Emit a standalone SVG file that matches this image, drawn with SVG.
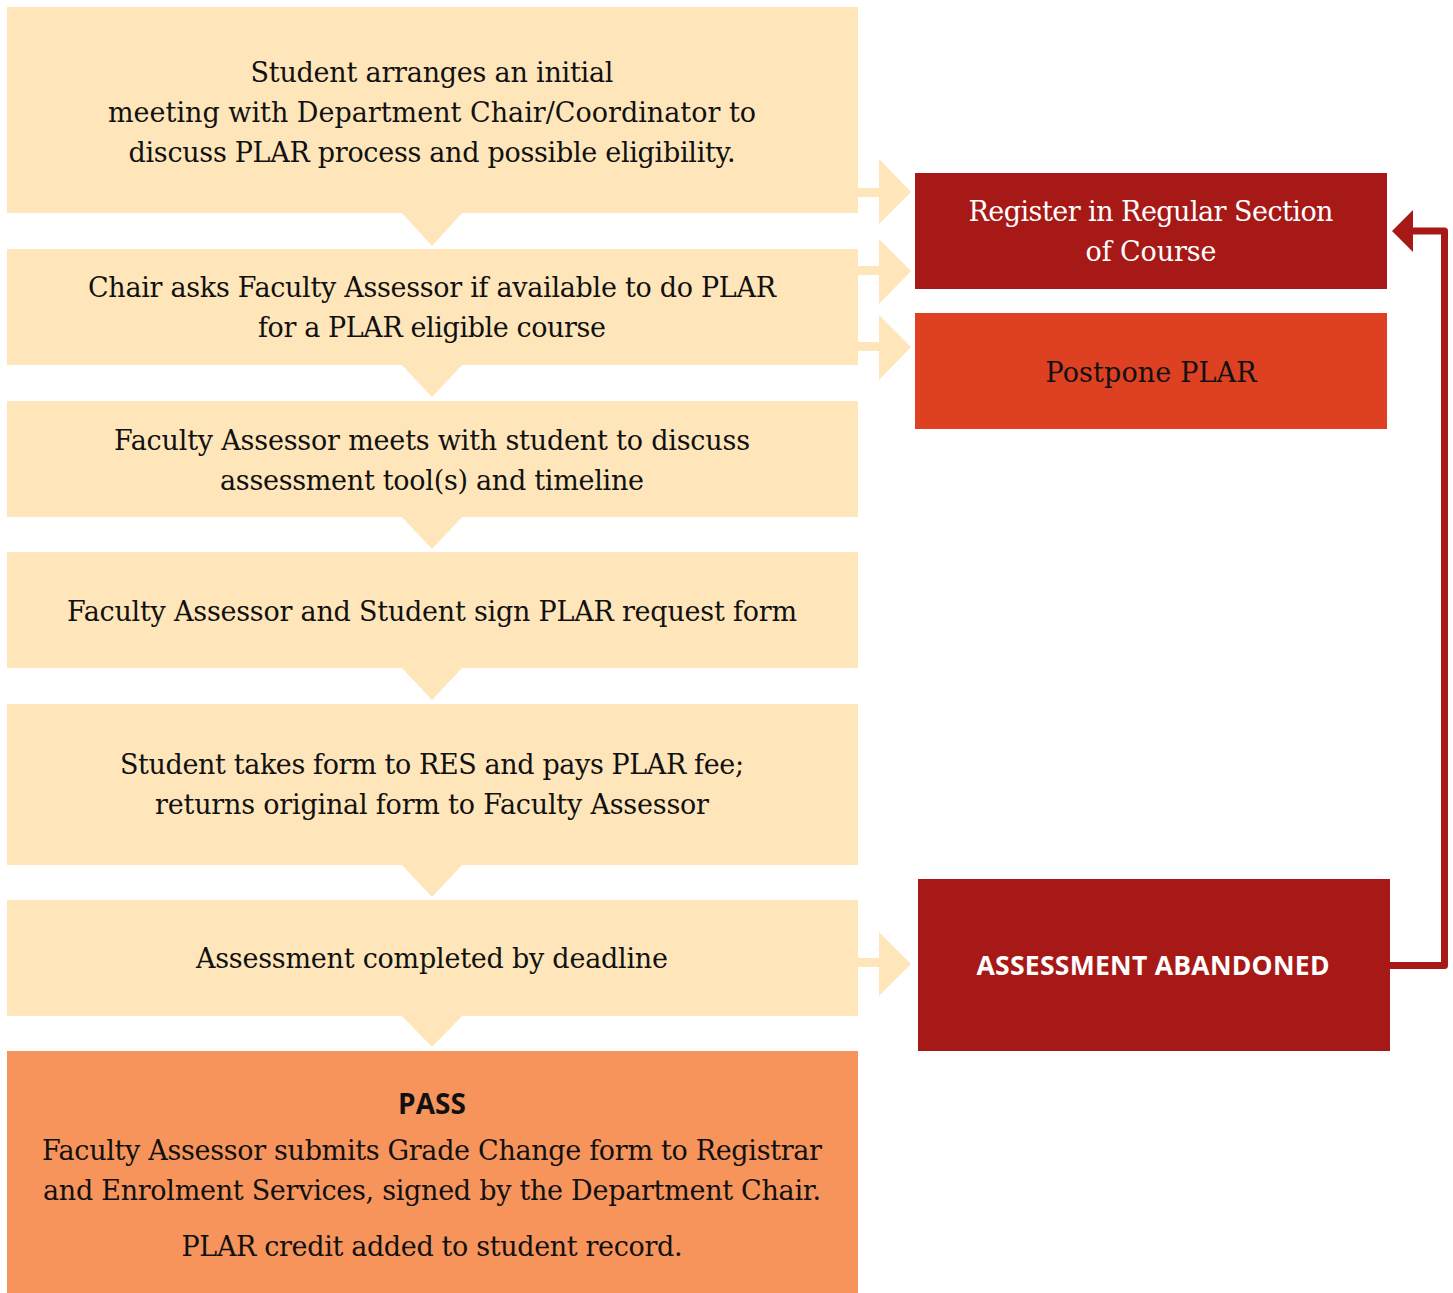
<svg xmlns="http://www.w3.org/2000/svg" width="1453" height="1293" viewBox="0 0 1453 1293">
<style>
.bg{fill:#ffffff}
.cream{fill:#FFE6BA}
.dark{fill:#A71916}
.post{fill:#DE4022}
.pass{fill:#F6945B}
.t{font-family:"DejaVu Serif","Liberation Serif",serif;font-size:27px;fill:#111111;text-anchor:middle}
.tw{font-family:"DejaVu Serif","Liberation Serif",serif;font-size:27px;fill:#ffffff;text-anchor:middle}
.b{font-family:"Open Sans","DejaVu Sans",sans-serif;font-weight:bold;text-anchor:middle}
.conn{fill:none;stroke:#A71916;stroke-width:7;stroke-linejoin:round}
</style>
<rect class="bg" x="0" y="0" width="1453" height="1293"/>
<g id="connectors">
  <path class="cream" d="M858 188H879V159L911 192L879 224V197H858Z"/>
  <path class="cream" d="M858 266H879V239L911 271L879 304V275H858Z"/>
  <path class="cream" d="M858 342H879V315L911 347L879 380V351H858Z"/>
  <path class="cream" d="M858 958H879V932L911 964L879 996V967H858Z"/>
  <polygon class="cream" points="401,212 463,212 432,246"/>
  <polygon class="cream" points="401,364 463,364 432,397"/>
  <polygon class="cream" points="401,516 463,516 432,549"/>
  <polygon class="cream" points="401,667 463,667 432,700"/>
  <polygon class="cream" points="401,864 463,864 432,897"/>
  <polygon class="cream" points="401,1015 463,1015 432,1047"/>
  <path class="conn" d="M1390 965.5H1444.5V231H1410"/>
  <polygon class="dark" points="1392,231 1413,210 1413,252"/>
</g>
<g id="n1">
  <rect class="cream" x="7" y="7" width="851" height="206"/>
  <text class="t" x="432" y="82" textLength="363">Student arranges an initial</text>
  <text class="t" x="432" y="122" textLength="648">meeting with Department Chair/Coordinator to</text>
  <text class="t" x="432" y="162" textLength="607">discuss PLAR process and possible eligibility.</text>
</g>
<g id="n2">
  <rect class="cream" x="7" y="249" width="851" height="116"/>
  <text class="t" x="432" y="297" textLength="688">Chair asks Faculty Assessor if available to do PLAR</text>
  <text class="t" x="432" y="337" textLength="348">for a PLAR eligible course</text>
</g>
<g id="n3">
  <rect class="cream" x="7" y="401" width="851" height="116"/>
  <text class="t" x="432" y="450" textLength="636">Faculty Assessor meets with student to discuss</text>
  <text class="t" x="432" y="490" textLength="424">assessment tool(s) and timeline</text>
</g>
<g id="n4">
  <rect class="cream" x="7" y="552" width="851" height="116"/>
  <text class="t" x="432" y="621" textLength="730">Faculty Assessor and Student sign PLAR request form</text>
</g>
<g id="n5">
  <rect class="cream" x="7" y="704" width="851" height="161"/>
  <text class="t" x="432" y="774" textLength="624">Student takes form to RES and pays PLAR fee;</text>
  <text class="t" x="432" y="814" textLength="554">returns original form to Faculty Assessor</text>
</g>
<g id="n6">
  <rect class="cream" x="7" y="900" width="851" height="116"/>
  <text class="t" x="432" y="968" textLength="472">Assessment completed by deadline</text>
</g>
<g id="n7">
  <rect class="pass" x="7" y="1051" width="851" height="242"/>
  <text class="b" x="432" y="1114" font-size="28" fill="#111111" textLength="68">PASS</text>
  <text class="t" x="432" y="1160" textLength="780">Faculty Assessor submits Grade Change form to Registrar</text>
  <text class="t" x="432" y="1200" textLength="778">and Enrolment Services, signed by the Department Chair.</text>
  <text class="t" x="432" y="1256" textLength="501">PLAR credit added to student record.</text>
</g>
<g id="register">
  <rect class="dark" x="915" y="173" width="472" height="116"/>
  <text class="tw" x="1151" y="221" textLength="365">Register in Regular Section</text>
  <text class="tw" x="1151" y="261" textLength="131">of Course</text>
</g>
<g id="postpone">
  <rect class="post" x="915" y="313" width="472" height="116"/>
  <text class="t" x="1151" y="382" textLength="211">Postpone PLAR</text>
</g>
<g id="abandoned">
  <rect class="dark" x="918" y="879" width="472" height="172"/>
  <text class="b" x="1153" y="975" font-size="26.5" fill="#ffffff" textLength="353">ASSESSMENT ABANDONED</text>
</g>
</svg>
